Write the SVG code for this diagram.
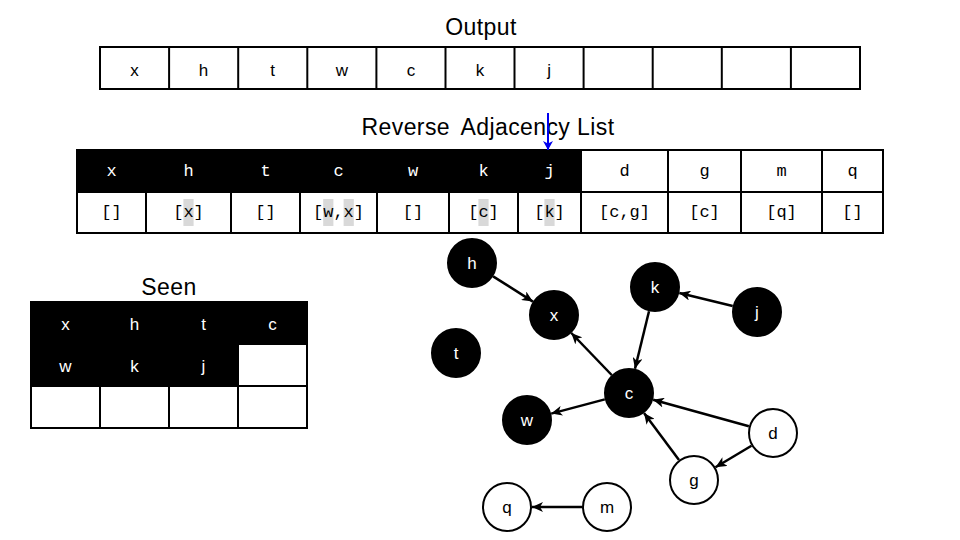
<svg xmlns="http://www.w3.org/2000/svg" width="960" height="540" viewBox="0 0 960 540">
<defs>
<marker id="ah" markerUnits="userSpaceOnUse" markerWidth="12" markerHeight="10" refX="11" refY="5" orient="auto">
<path d="M0,0 L11,5 L0,10 L3,5 z" fill="#000"/>
</marker>
<marker id="bh" markerUnits="userSpaceOnUse" markerWidth="10" markerHeight="10" refX="9" refY="5" orient="auto">
<path d="M0,0 L9,5 L0,10 L2.5,5 z" fill="#0000ee"/>
</marker>
<style>
.t{font-family:"Liberation Sans",Arial,sans-serif;fill:#000;text-anchor:middle}
.ttl{font-size:23px;letter-spacing:0.4px}
.cell{fill:#fff;stroke:#000;stroke-width:2}
.ct{font-family:"Liberation Sans",Arial,sans-serif;font-size:17px;text-anchor:middle;dominant-baseline:central}
.mono{font-family:"Liberation Mono","DejaVu Sans Mono",monospace;font-size:17px;text-anchor:middle;dominant-baseline:central}
.hl{fill:#d9d9d9}
.bn{fill:#000;stroke:#000;stroke-width:2}
.wn{fill:#fff;stroke:#000;stroke-width:2}
.nt{font-family:"Liberation Sans",Arial,sans-serif;font-size:17px;text-anchor:middle;dominant-baseline:central}
.e{stroke:#000;stroke-width:2.5;fill:none;marker-end:url(#ah)}
</style>
</defs>
<rect width="960" height="540" fill="#fff"/>

<g id="output">
<text class="t ttl" x="481" y="35">Output</text>
<rect class="cell" x="100" y="47" width="760" height="42"/>
<g stroke="#000" stroke-width="2">
<line x1="169.1" y1="47" x2="169.1" y2="89"/><line x1="238.2" y1="47" x2="238.2" y2="89"/><line x1="307.3" y1="47" x2="307.3" y2="89"/><line x1="376.4" y1="47" x2="376.4" y2="89"/><line x1="445.5" y1="47" x2="445.5" y2="89"/><line x1="514.5" y1="47" x2="514.5" y2="89"/><line x1="583.6" y1="47" x2="583.6" y2="89"/><line x1="652.7" y1="47" x2="652.7" y2="89"/><line x1="721.8" y1="47" x2="721.8" y2="89"/><line x1="790.9" y1="47" x2="790.9" y2="89"/>
</g>
<text class="ct" x="134.5" y="70">x</text><text class="ct" x="203.6" y="70">h</text><text class="ct" x="272.7" y="70">t</text><text class="ct" x="341.8" y="70">w</text><text class="ct" x="410.9" y="70">c</text><text class="ct" x="480" y="70">k</text><text class="ct" x="549.1" y="70">j</text>
</g>

<g id="reverse-adjacency">
<text class="t ttl" x="488" y="135">Reverse <tspan dx="5">Adjacency</tspan> List</text>
<rect x="77" y="150" width="806" height="83" fill="#fff" stroke="#000" stroke-width="2"/>
<rect x="77" y="150" width="504" height="42" fill="#000"/>
<g stroke="#000" stroke-width="2">
<line x1="77" y1="192" x2="883" y2="192"/>
<line x1="146" y1="192" x2="146" y2="233"/><line x1="231" y1="192" x2="231" y2="233"/><line x1="300" y1="192" x2="300" y2="233"/><line x1="377" y1="192" x2="377" y2="233"/><line x1="449" y1="192" x2="449" y2="233"/><line x1="518" y1="192" x2="518" y2="233"/>
<line x1="581" y1="150" x2="581" y2="233"/><line x1="668" y1="150" x2="668" y2="233"/><line x1="741" y1="150" x2="741" y2="233"/><line x1="822" y1="150" x2="822" y2="233"/>
</g>
<text class="mono" x="111.5" y="171" fill="#fff">x</text><text class="mono" x="188.5" y="171" fill="#fff">h</text><text class="mono" x="265.5" y="171" fill="#fff">t</text><text class="mono" x="338.5" y="171" fill="#fff">c</text><text class="mono" x="413" y="171" fill="#fff">w</text><text class="mono" x="483.5" y="171" fill="#fff">k</text><text class="mono" x="549.5" y="171" fill="#fff">j</text>
<text class="mono" x="624.5" y="171">d</text><text class="mono" x="704.5" y="171">g</text><text class="mono" x="781.5" y="171">m</text><text class="mono" x="852.5" y="171">q</text>
<rect class="hl" x="183.4" y="199" width="10.2" height="27"/>
<rect class="hl" x="323.2" y="199" width="10.2" height="27"/>
<rect class="hl" x="343.6" y="199" width="10.2" height="27"/>
<rect class="hl" x="478.4" y="199" width="10.2" height="27"/>
<rect class="hl" x="544.4" y="199" width="10.2" height="27"/>
<text class="mono" x="111.5" y="212">[]</text><text class="mono" x="188.5" y="212">[x]</text><text class="mono" x="265.5" y="212">[]</text><text class="mono" x="338.5" y="212">[w,x]</text><text class="mono" x="413" y="212">[]</text><text class="mono" x="483.5" y="212">[c]</text><text class="mono" x="549.5" y="212">[k]</text><text class="mono" x="624.5" y="212">[c,g]</text><text class="mono" x="704.5" y="212">[c]</text><text class="mono" x="781.5" y="212">[q]</text><text class="mono" x="852.5" y="212">[]</text>
<line x1="548" y1="113" x2="548" y2="150" stroke="#0000ee" stroke-width="2" marker-end="url(#bh)"/>
</g>

<g id="seen">
<text class="t ttl" x="169" y="295">Seen</text>
<rect x="31" y="302" width="276" height="126" fill="#fff" stroke="#000" stroke-width="2"/>
<path d="M31,302 H307 V344 H238 V386 H31 Z" fill="#000"/>
<g stroke="#000" stroke-width="2">
<line x1="238" y1="344" x2="307" y2="344"/><line x1="31" y1="386" x2="307" y2="386"/>
<line x1="100" y1="386" x2="100" y2="428"/><line x1="169" y1="386" x2="169" y2="428"/><line x1="238" y1="344" x2="238" y2="428"/>
</g>
<text class="ct" x="65.5" y="324" fill="#fff">x</text><text class="ct" x="134.5" y="324" fill="#fff">h</text><text class="ct" x="203.5" y="324" fill="#fff">t</text><text class="ct" x="272.5" y="324" fill="#fff">c</text>
<text class="ct" x="65.5" y="366" fill="#fff">w</text><text class="ct" x="134.5" y="366" fill="#fff">k</text><text class="ct" x="203.5" y="366" fill="#fff">j</text>
</g>

<g id="connectors">
<line class="e" x1="493.1" y1="276.4" x2="532.9" y2="301.6"/>
<line class="e" x1="611.7" y1="375" x2="571.3" y2="333"/>
<line class="e" x1="649" y1="311.3" x2="635" y2="368.7"/>
<line class="e" x1="732.7" y1="306" x2="679.3" y2="293"/>
<line class="e" x1="604.8" y1="399.4" x2="551.2" y2="413.6"/>
<line class="e" x1="748.9" y1="426.3" x2="653.1" y2="399.7"/>
<line class="e" x1="679" y1="460" x2="644" y2="413"/>
<line class="e" x1="751.5" y1="445.8" x2="715.5" y2="467.2"/>
<line class="e" x1="582" y1="507" x2="532" y2="507"/>
</g>

<g id="node-h"><circle class="bn" cx="472" cy="263" r="24"/><text class="nt" x="472" y="263" fill="#fff">h</text></g>
<g id="node-x"><circle class="bn" cx="554" cy="315" r="24"/><text class="nt" x="554" y="315" fill="#fff">x</text></g>
<g id="node-k"><circle class="bn" cx="655" cy="287" r="24"/><text class="nt" x="655" y="287" fill="#fff">k</text></g>
<g id="node-j"><circle class="bn" cx="757" cy="312" r="24"/><text class="nt" x="757" y="312" fill="#fff">j</text></g>
<g id="node-t"><circle class="bn" cx="456" cy="353" r="24"/><text class="nt" x="456" y="353" fill="#fff">t</text></g>
<g id="node-c"><circle class="bn" cx="629" cy="393" r="24"/><text class="nt" x="629" y="393" fill="#fff">c</text></g>
<g id="node-w"><circle class="bn" cx="527" cy="420" r="24"/><text class="nt" x="527" y="420" fill="#fff">w</text></g>
<g id="node-d"><circle class="wn" cx="773" cy="433" r="24"/><text class="nt" x="773" y="433">d</text></g>
<g id="node-g"><circle class="wn" cx="694" cy="480" r="24"/><text class="nt" x="694" y="480">g</text></g>
<g id="node-q"><circle class="wn" cx="507" cy="507" r="24"/><text class="nt" x="507" y="507">q</text></g>
<g id="node-m"><circle class="wn" cx="607" cy="507" r="24"/><text class="nt" x="607" y="507">m</text></g>
</svg>
